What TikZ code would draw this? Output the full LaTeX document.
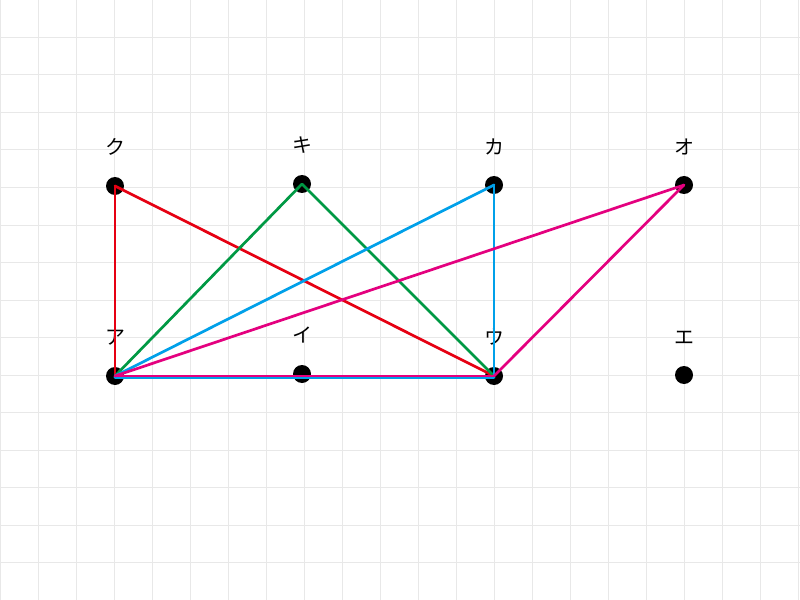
\documentclass[tikz,border=0pt]{standalone}
\usepackage{fontspec}
\newfontfamily\jpfont{Noto Sans CJK JP}
\usetikzlibrary{positioning}
\definecolor{gridgray}{RGB}{232,232,232}
\definecolor{edgeRed}{RGB}{230,0,18}
\definecolor{edgeGreen}{RGB}{0,153,68}
\definecolor{edgeBlue}{RGB}{0,160,233}
\definecolor{edgeMagenta}{RGB}{228,0,127}

\begin{document}
\begin{tikzpicture}[x=1bp, y=-1bp,
  dot/.style={circle, fill=black, inner sep=0pt, minimum size=18bp},
  lbl/.style={font=\jpfont\fontsize{20}{20}\selectfont, inner sep=0pt},
  edge/.style={line width=2.7bp, line cap=round, line join=round}]
  \useasboundingbox (0,0) rectangle (800,600);
  \fill[white] (0,0) rectangle (800,600);
  % Grid
  \foreach \x in {0,38,...,798}
    \draw[gridgray, line width=1bp] (\x,0) -- (\x,600);
  \foreach \y in {0,37.5,...,600}
    \draw[gridgray, line width=1bp] (0,\y) -- (800,\y);
  % Top row of vertices
  \node[dot] (ku) at (115,186) {};
  \node[dot] (ki) at (302,184) {};
  \node[dot] (ka) at (494,185) {};
  \node[dot] (o)  at (684,185) {};
  % Bottom row of vertices
  \node[dot] (a)  at (115,376) {};
  \node[dot] (i)  at (302,374) {};
  \node[dot] (u)  at (494,376) {};
  \node[dot] (e)  at (684,375) {};
  % Labels
  \node[lbl, above=21bp of ku] (kuT) {ク};
  \node[lbl, above=21bp of ki] (kiT) {キ};
  \node[lbl, above=21bp of ka] (kaT) {カ};
  \node[lbl, above=21bp of o]  (oT)  {オ};
  \node[lbl, above=21bp of a]  (aT)  {ア};
  \node[lbl, above=21bp of i]  (iT)  {イ};
  \node[lbl, above=21bp of u]  (uT)  {ウ};
  \node[lbl, above=21bp of e]  (eT)  {エ};
  % Edges
  \draw[edge, edgeRed] (ku.center) -- (a.center);
  \draw[edge, edgeRed] (ku.center) -- (u.center);
  \draw[edge, edgeGreen] (ki.center) -- (a.center);
  \draw[edge, edgeGreen] (ki.center) -- (u.center);
  \draw[edge, edgeBlue] (ka.center) -- (a.center);
  \draw[edge, edgeBlue] (ka.center) -- (u.center);
  \draw[edge, edgeBlue, transform canvas={yshift=-1.5bp}] (a.center) -- (u.center);
  \draw[edge, edgeMagenta] (o.center) -- (a.center);
  \draw[edge, edgeMagenta] (o.center) -- (u.center);
  \draw[edge, edgeMagenta] (a.center) -- (u.center);
\end{tikzpicture}
\end{document}
